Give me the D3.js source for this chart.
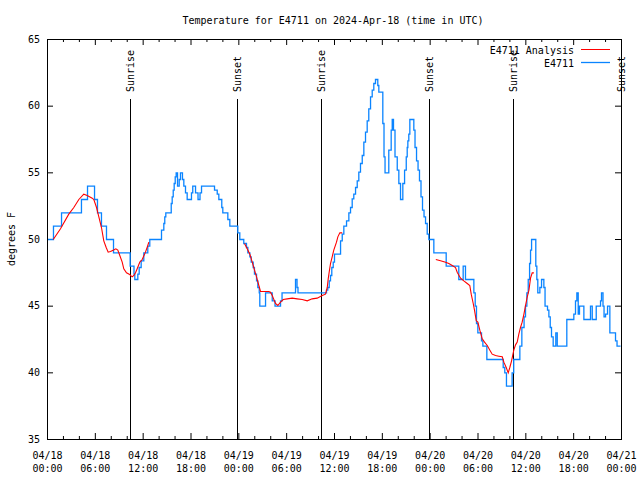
<!DOCTYPE html>
<html><head><meta charset="utf-8">
<script src="https://cdn.jsdelivr.net/npm/d3@7"></script>
<style>
body{margin:0;background:#fff}
text{font-family:"DejaVu Sans Mono",monospace;font-size:10px;fill:#000}
</style>
</head><body>
<svg id="c" width="640" height="480"></svg>
<script>
// ---------------- data ----------------
const chartTitle = "Temperature for E4711 on 2024-Apr-18 (time in UTC)";
const yLabel = "degrees F";
const startUTC = Date.UTC(2024, 3, 18, 0, 0);
const yTicks = [35, 40, 45, 50, 55, 60, 65];
const xMajorHours = [0, 6, 12, 18, 24, 30, 36, 42, 48, 54, 60, 66, 72];
const xMinorHours = d3.range(0, 73, 2).filter(h => h % 6 !== 0);
const xTickDates = ["04/18","04/18","04/18","04/18","04/19","04/19","04/19","04/19","04/20","04/20","04/20","04/20","04/21"];
const xTickTimes = ["00:00","06:00","12:00","18:00","00:00","06:00","12:00","18:00","00:00","06:00","12:00","18:00","00:00"];
const sunLabels = ["Sunrise", "Sunset", "Sunrise", "Sunset", "Sunrise", "Sunset"];
const sunHours  = [10.45, 23.87, 34.41, 47.93, 58.48, 71.96];
const seriesNames = ["E4711 Analysis", "E4711"];

// observed E4711 temperature [hours since 04/18 00:00 UTC, degF]
const observed = [
[0.00,50],[0.75,51],[1.76,52],[4.26,53],[5.02,54],[5.90,53],[6.27,52],[6.77,51],[7.40,50],[8.28,49],
[10.37,48],[10.85,47.4],[10.95,47],[11.33,47.4],[11.50,47.9],[11.75,48.4],[12.08,49],[12.58,49.5],[12.83,50],
[14.30,50.7],[14.59,51.2],[14.71,51.7],[14.84,52],[15.52,52.7],[15.64,53.2],[15.77,53.7],[15.89,54.2],[16.02,54.7],
[16.14,55],[16.31,54],[16.52,54.5],[16.68,55],[16.93,54.5],[17.10,54],[17.31,53.5],[17.52,53],[18.06,53.5],[18.22,54],
[18.57,53.5],[18.88,53],[19.13,53.5],[19.32,54],[20.95,53.7],[21.29,53.4],[21.49,53],[21.86,52.4],[21.99,52],
[22.62,51.5],[22.87,51],[23.87,50.5],[24.12,50],[24.62,49.7],[24.96,49.4],[25.13,49],[25.38,48.7],[25.55,48.3],
[25.80,47.9],[25.96,47.4],[26.22,46.9],[26.38,46.4],[26.56,46],[26.63,45],[27.35,46],[28.19,45.4],[28.54,45],
[29.23,45.4],[29.42,46],[31.11,47],[31.30,46.4],[31.42,46],[35.00,46.2],[35.16,46.4],[35.34,46.9],[35.50,47.3],
[35.66,47.9],[35.84,48.3],[36.00,48.9],[36.76,49.9],[36.97,50.4],[37.17,51],[37.51,51.4],[37.80,52],[38.01,52.4],
[38.22,53.05],[38.42,53.4],[38.64,53.9],[38.85,54.4],[39.05,55.05],[39.26,55.7],[39.48,56.3],[39.68,57.3],[39.89,58.05],
[40.10,58.9],[40.30,59.8],[40.52,60.7],[40.73,61.2],[40.93,61.7],[41.14,62],[41.43,61.55],[41.56,61.05],[42.06,58.7],
[42.21,56.2],[42.34,55],[42.81,56.7],[43.11,58.2],[43.24,59],[43.40,58.2],[43.59,56.2],[43.87,55.2],[44.07,54.2],
[44.28,53],[44.57,54.2],[44.79,55.2],[45.00,56.2],[45.12,56.9],[45.20,57.4],[45.32,57.9],[45.45,59],[45.95,58.2],
[46.10,56.9],[46.29,55.9],[46.48,55.2],[46.66,54.4],[46.85,53.2],[47.04,52.2],[47.23,51.7],[47.42,51.2],[47.63,50.4],
[47.83,50],[48.46,49],[50.01,48],[51.59,47],[52.14,48],[52.43,47],[53.48,46],[53.65,45],[53.81,43.7],[53.98,43],
[54.44,42.4],[54.61,42],[55.11,41],[57.16,40.4],[57.36,40],[57.57,39],[58.28,40],[58.48,41],[59.25,42],[59.50,43.4],
[59.78,44.2],[59.96,45],[60.13,46],[60.30,47],[60.47,48.2],[60.59,49.2],[60.72,50],[61.25,48],[61.38,47],[61.50,46],
[61.76,46.4],[61.97,47],[62.26,46.4],[62.41,45],[62.72,44.7],[62.89,44.2],[63.06,43.4],[63.22,42.7],[63.43,42],
[63.76,43],[63.94,42],[65.14,44],[66.02,44.4],[66.23,45.4],[66.40,46],[66.57,44.4],[66.73,45],[67.28,44],[68.11,45],
[68.33,44],[68.83,45],[69.37,45.4],[69.49,46],[69.68,45],[69.81,44.2],[70.00,44.4],[70.25,45],[70.54,43],[71.25,42.4],
[71.44,42],[71.88,42]
];

// analysis segments (null = gap)
const analysis = [
[0.72,50.0],[1.63,50.8],[2.67,51.9],[3.30,52.4],[3.93,53.0],[4.55,53.4],[4.98,53.3],[5.61,53.1],[5.81,53.0],[6.15,52.4],
[6.44,51.7],[6.77,50.9],[7.06,49.9],[7.36,49.4],[7.61,49.05],[7.90,49.1],[8.24,49.2],[8.57,49.3],[8.82,49.2],[9.07,48.8],
[9.37,48.3],[9.57,47.8],[9.91,47.5],[10.25,47.4],[10.62,47.2],[10.83,47.3],[11.04,47.5],[11.25,47.8],[11.58,48.3],
[11.88,48.5],[12.29,49.05],[12.58,49.55],[12.71,49.8],
null,
[24.71,49.7],[25.05,49.3],[25.38,48.9],[25.68,48.3],[25.97,47.7],[26.22,47.2],[26.51,46.55],[26.72,46.1],[27.13,46.1],
[27.76,46.1],[27.97,46.05],[28.19,45.8],[28.39,45.5],[28.60,45.2],[28.89,45.05],[29.23,45.3],[29.57,45.5],[30.07,45.55],
[30.70,45.6],[31.32,45.55],[31.95,45.5],[32.58,45.4],[33.20,45.55],[33.83,45.6],[34.46,45.8],[34.87,45.9],[35.09,46.4],
[35.21,47.05],[35.37,47.7],[35.50,48.2],[35.71,48.7],[35.91,49.2],[36.25,49.8],[36.42,50.2],[36.67,50.5],[36.97,50.5],
null,
[48.71,48.5],[49.30,48.4],[49.93,48.3],[50.34,48.2],[50.77,48.05],[51.18,47.9],[51.39,47.55],[51.81,47.1],[52.22,46.9],
[52.65,46.7],[52.97,46.55],[53.15,45.9],[53.40,45.2],[53.56,44.7],[53.78,43.9],[53.98,43.8],[54.23,43.2],[54.53,42.55],
[54.82,42.3],[55.16,42.05],[55.49,41.7],[55.78,41.4],[56.20,41.3],[56.61,41.25],[57.04,41.2],[57.24,40.8],[57.54,40.4],
[57.79,40.0],[57.99,40.4],[58.21,40.9],[58.49,41.7],[58.71,42.1],[58.92,42.3],[59.12,42.9],[59.33,43.4],[59.54,43.8],
[59.76,44.4],[59.96,45.05],[60.18,45.7],[60.39,46.2],[60.59,47.1],[60.80,47.5],[61.01,47.5]
];

// ---------------- drawing ----------------
const toDate = h => new Date(startUTC + h * 3600e3);
const svg = d3.select("#c");
const L = 47, R = 621, T = 39, B = 439;
const x = d3.scaleUtc().domain([toDate(0), toDate(72)]).range([L, R]);
const y = d3.scaleLinear().domain([35, 65]).range([B, T]);

svg.append("rect").attr("width", 640).attr("height", 480).attr("fill", "#fff");

// title
svg.append("text").attr("x", 333).attr("y", 24).attr("text-anchor", "middle").text(chartTitle);
// y label
svg.append("text").attr("transform", "translate(14.5,239) rotate(-90)").attr("text-anchor", "middle").text(yLabel);

// axes
function clean(g) { g.select(".domain").remove(); g.selectAll("line").attr("stroke", "#000"); }
svg.append("g").attr("transform", `translate(${L},0)`)
  .call(d3.axisLeft(y).tickValues(yTicks).tickSize(-6).tickPadding(7).tickFormat(d3.format("d")))
  .call(clean)
  .call(g => g.selectAll("text").style("font-family", "DejaVu Sans Mono").style("font-size", "10px"));
svg.append("g").attr("transform", `translate(${R},0)`)
  .call(d3.axisRight(y).tickValues(yTicks.slice(1, -1)).tickSize(-6).tickFormat(""))
  .call(clean);

const bottom = svg.append("g").attr("transform", `translate(0,${B})`)
  .call(d3.axisBottom(x).tickValues(xMajorHours.map(toDate)).tickSize(-6).tickFormat(""))
  .call(clean);
bottom.selectAll(".tick").each(function (d, i) {
  const t = d3.select(this).append("text").attr("text-anchor", "middle")
    .style("font-family", "DejaVu Sans Mono").style("font-size", "10px");
  t.append("tspan").attr("x", 0).attr("y", 19.5).text(xTickDates[i]);
  t.append("tspan").attr("x", 0).attr("y", 33).text(xTickTimes[i]);
});
svg.append("g").attr("transform", `translate(0,${B})`)
  .call(d3.axisBottom(x).tickValues(xMinorHours.map(toDate)).tickSize(-3).tickFormat("")).call(clean);
svg.append("g").attr("transform", `translate(0,${T})`)
  .call(d3.axisTop(x).tickValues(xMajorHours.map(toDate)).tickSize(-6).tickFormat("")).call(clean);
svg.append("g").attr("transform", `translate(0,${T})`)
  .call(d3.axisTop(x).tickValues(xMinorHours.map(toDate)).tickSize(-3).tickFormat("")).call(clean);

// sunrise / sunset markers
const sun = svg.append("g");
sunHours.forEach((h, i) => {
  const px = Math.round(x(toDate(h))) + 0.5;
  sun.append("line").attr("x1", px).attr("x2", px).attr("y1", 99).attr("y2", B)
    .attr("stroke", "#000").attr("stroke-width", 1).attr("shape-rendering", "crispEdges");
  sun.append("text").attr("transform", `translate(${px + 3.6},92) rotate(-90)`)
    .attr("text-anchor", "start").text(sunLabels[i]);
});

// observed series (steps)
const stepLine = d3.line().x(d => x(toDate(d[0])) + 0.5).y(d => y(d[1]) + 0.5).curve(d3.curveStepAfter);
svg.append("path").datum(observed).attr("d", stepLine)
  .attr("fill", "none").attr("stroke", "#0a84ff").attr("stroke-width", 1.3);

// analysis series
const anLine = d3.line().defined(d => d !== null).x(d => x(toDate(d[0])) + 0.5).y(d => y(d[1]) + 0.5);
svg.append("path").datum(analysis).attr("d", anLine)
  .attr("fill", "none").attr("stroke", "#ff0000").attr("stroke-width", 1.1);

// border
svg.append("rect").attr("x", L + 0.5).attr("y", T + 0.5).attr("width", R - L).attr("height", B - T)
  .attr("fill", "none").attr("stroke", "#000").attr("stroke-width", 1).attr("shape-rendering", "crispEdges");

// legend
const legColors = ["#ff0000", "#0a84ff"];
const leg = svg.append("g");
seriesNames.forEach((n, i) => {
  const cy = 49.5 + i * 13;
  leg.append("text").attr("x", 574).attr("y", cy + 4).attr("text-anchor", "end").text(n);
  leg.append("line").attr("x1", 581).attr("x2", 610).attr("y1", cy).attr("y2", cy)
    .attr("stroke", legColors[i]).attr("stroke-width", i === 1 ? 1.3 : 1);
});
</script>
</body></html>
